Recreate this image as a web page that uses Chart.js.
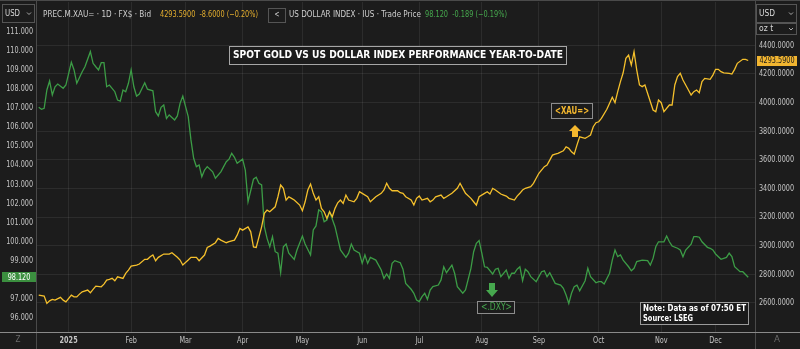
<!DOCTYPE html>
<html>
<head>
<meta charset="utf-8">
<script src="https://cdn.jsdelivr.net/npm/chart.js@4.4.1/dist/chart.umd.min.js"></script>
<style>
  html, body { margin: 0; padding: 0; background: #1c1c1c; }
  canvas { display: block; }
</style>
</head>
<body>
<canvas id="chart" width="800" height="349"></canvas>
<script>
// x axis is counted in trading sessions (weekdays) from 1 Jan 2025
const monthTicks = [0, 23, 43, 64, 86, 108, 129, 152, 173, 195, 218, 238];
const monthLabels = ['2025', 'Feb', 'Mar', 'Apr', 'May', 'Jun', 'Jul', 'Aug', 'Sep', 'Oct', 'Nov', 'Dec'];

const dxyTicks = [96, 97, 98, 99, 100, 101, 102, 103, 104, 105, 106, 107, 108, 109, 110, 111];
const goldTicks = [2600, 2800, 3000, 3200, 3400, 3600, 3800, 4000, 4200, 4400];

// spot gold, USD/oz t
const goldSessions = [
  -11, -9, -8, -7, -6, -5, -3, -2, -1, 1, 2, 3, 4, 5, 7, 8, 9, 10, 12, 13,
  14, 15, 16, 17, 18, 20, 21, 22, 23, 25, 26, 28, 29, 30, 31, 32, 33, 35, 36, 37,
  38, 40, 41, 42, 44, 45, 46, 47, 48, 50, 51, 52, 54, 55, 56, 58, 59, 61, 62, 63,
  64, 66, 67, 68, 69, 71, 72, 73, 74, 76, 77, 78, 79, 80, 81, 82, 83, 85, 86, 87,
  88, 89, 90, 91, 92, 93, 94, 95, 96, 97, 98, 99, 100, 101, 102, 103, 105, 106, 107, 108,
  110, 111, 112, 113, 115, 116, 117, 118, 119, 121, 122, 123, 124, 126, 127, 128, 129, 130, 132, 133,
  134, 135, 137, 138, 139, 140, 141, 143, 144, 145, 146, 148, 149, 150, 151, 153, 154, 155, 156, 157,
  159, 160, 161, 162, 164, 165, 166, 167, 168, 170, 171, 172, 173, 175, 176, 177, 178, 179, 180, 182,
  183, 184, 185, 186, 187, 188, 190, 191, 192, 193, 194, 195, 196, 198, 199, 200, 201, 202, 203, 204,
  205, 206, 207, 208, 209, 210, 211, 212, 214, 215, 216, 217, 218, 219, 221, 222, 223, 224, 225, 226,
  228, 229, 230, 231, 232, 233, 234, 236, 237, 238, 239, 240, 241, 243, 244, 245, 246, 248, 249, 250
];
const goldValues = [
  2655, 2648, 2597, 2615, 2625, 2620, 2639, 2620, 2608, 2655, 2643, 2643, 2662, 2678, 2690, 2671, 2695, 2718, 2713, 2732,
  2760, 2765, 2772, 2755, 2783, 2772, 2807, 2830, 2858, 2865, 2872, 2905, 2905, 2923, 2935, 2895, 2919, 2942, 2942, 2942,
  2951, 2919, 2900, 2865, 2900, 2919, 2919, 2919, 2895, 2935, 2988, 2997, 3021, 3051, 3039, 3021, 3028, 3039, 3074, 3121,
  3109, 3132, 3097, 2991, 2988, 3132, 3226, 3249, 3237, 3272, 3342, 3424, 3401, 3319, 3342, 3331, 3319, 3284, 3244, 3307,
  3389, 3431, 3366, 3319, 3342, 3261, 3237, 3191, 3237, 3202, 3261, 3300, 3319, 3296, 3354, 3319, 3307, 3331, 3377, 3366,
  3342, 3307, 3324, 3342, 3366, 3389, 3436, 3401, 3384, 3384, 3370, 3366, 3342, 3319, 3284, 3331, 3347, 3319, 3331, 3307,
  3319, 3342, 3354, 3331, 3342, 3354, 3366, 3401, 3436, 3401, 3366, 3331, 3307, 3284, 3342, 3366, 3377, 3361, 3401, 3389,
  3361, 3354, 3347, 3331, 3319, 3347, 3366, 3389, 3401, 3412, 3436, 3471, 3506, 3552, 3564, 3598, 3633, 3640, 3645, 3663,
  3691, 3680, 3656, 3640, 3703, 3761, 3750, 3761, 3773, 3831, 3859, 3866, 3890, 3953, 3995, 4037, 3999, 4076, 4146, 4208,
  4309, 4332, 4262, 4355, 4227, 4123, 4111, 4123, 4006, 3948, 3936, 4018, 3999, 3936, 3983, 3983, 4123, 4181, 4204, 4158,
  4088, 4053, 4076, 4088, 4069, 4146, 4169, 4162, 4192, 4232, 4232, 4216, 4208, 4204, 4199, 4232, 4274, 4302, 4302, 4293.59
];

// US dollar index
const dxySessions = [
  -11, -10, -9, -8, -7, -6, -5, -4, -2, -1, 1, 2, 3, 5, 6, 8, 9, 10, 11, 12,
  13, 14, 15, 17, 18, 19, 20, 21, 22, 23, 24, 25, 26, 28, 29, 31, 32, 33, 34, 35,
  36, 37, 39, 40, 41, 42, 44, 45, 46, 47, 48, 49, 50, 51, 53, 54, 56, 58, 59, 60,
  61, 62, 64, 65, 66, 68, 69, 70, 71, 72, 73, 74, 75, 76, 77, 78, 79, 80, 81, 83,
  84, 86, 87, 89, 90, 91, 92, 93, 94, 95, 96, 98, 99, 100, 102, 103, 104, 105, 107, 108,
  109, 110, 111, 113, 115, 116, 117, 118, 119, 120, 122, 123, 124, 126, 127, 128, 129, 130, 131, 132,
  133, 134, 136, 137, 138, 139, 141, 142, 143, 145, 146, 148, 149, 150, 151, 152, 153, 154, 156, 157,
  158, 159, 161, 162, 163, 164, 165, 166, 167, 168, 169, 170, 172, 173, 174, 175, 176, 177, 179, 181,
  182, 183, 184, 185, 186, 187, 188, 190, 191, 192, 194, 195, 196, 197, 199, 200, 201, 202, 203, 204,
  206, 207, 208, 209, 211, 213, 214, 215, 216, 217, 219, 220, 221, 222, 224, 225, 226, 227, 229, 230,
  231, 232, 233, 235, 236, 237, 238, 240, 241, 242, 243, 244, 245, 247, 248, 250
];
const dxyValues = [
  107.03, 106.93, 106.98, 107.94, 108.41, 107.68, 108.11, 108.25, 108.03, 108.20, 109.39, 108.99, 108.29, 108.90, 109.16, 109.95, 109.34, 109.16, 108.99, 109.37,
  109.37, 108.11, 108.20, 107.85, 107.41, 107.36, 107.94, 107.85, 108.29, 108.99, 108.11, 107.62, 107.73, 108.32, 107.98, 107.90, 106.80, 106.58, 107.03, 107.15,
  106.45, 106.63, 106.37, 106.58, 107.24, 107.62, 106.54, 105.32, 104.36, 103.92, 104.01, 103.39, 103.74, 103.92, 103.65, 103.31, 103.65, 104.18, 104.31, 104.62,
  104.41, 104.10, 104.31, 103.74, 102.08, 103.26, 103.36, 103.05, 102.96, 100.77, 100.16, 99.72, 100.25, 99.46, 99.38, 98.36, 99.72, 99.86, 99.38, 99.06,
  99.55, 100.28, 99.86, 99.29, 100.60, 100.81, 101.65, 101.56, 101.03, 101.12, 101.56, 100.77, 100.16, 99.55, 99.16, 99.38, 99.86, 99.55, 99.38, 98.85,
  99.29, 98.85, 99.16, 99.02, 98.50, 98.06, 98.29, 98.06, 98.85, 98.99, 98.88, 98.54, 97.80, 97.49, 97.28, 96.93, 96.84, 97.10, 97.28, 96.96,
  97.45, 97.63, 97.71, 97.98, 98.67, 98.36, 98.76, 98.33, 97.63, 97.28, 97.45, 98.59, 99.46, 99.90, 100.04, 99.38, 98.67, 98.64, 98.29, 98.54,
  98.59, 98.15, 98.50, 98.06, 98.33, 98.33, 98.54, 98.67, 97.94, 98.54, 98.41, 98.15, 97.89, 98.15, 98.41, 98.46, 98.15, 98.36, 97.80, 97.71,
  97.54, 97.19, 96.75, 97.28, 97.63, 97.71, 97.41, 97.94, 98.59, 98.15, 97.83, 97.89, 97.89, 97.77, 98.33, 99.02, 99.55, 99.20, 99.29, 99.02,
  98.67, 98.46, 98.59, 98.94, 99.02, 98.99, 98.76, 99.11, 99.72, 99.98, 99.98, 100.28, 99.98, 99.76, 99.64, 99.55, 99.20, 99.55, 99.86, 100.25,
  100.25, 100.22, 99.98, 99.69, 99.64, 99.55, 99.34, 99.06, 99.11, 99.16, 99.38, 99.20, 98.67, 98.41, 98.41, 98.12
];

const GOLD = '#f5c02c';
const GREEN = '#3c9c46';
const BG = '#1c1c1c';
const GRID = 'rgba(255,255,255,0.075)';
const TICK = '#c4c4c4';
const UI = "'DejaVu Sans', sans-serif";
const SQUEEZE = 0.72; // the terminal font is narrower than DejaVu

function toPoints(xs, ys) {
  return xs.map((x, i) => ({ x: x, y: ys[i] }));
}

// draws text compressed horizontally by factor sx
function squeezeText(ctx, text, x, y, sx, font, color, align) {
  ctx.save();
  ctx.font = font;
  ctx.fillStyle = color;
  ctx.textBaseline = 'middle';
  ctx.textAlign = 'left';
  const w = ctx.measureText(text).width * sx;
  const x0 = align === 'center' ? x - w / 2 : (align === 'right' ? x - w : x);
  ctx.translate(x0, y);
  ctx.scale(sx, 1);
  ctx.fillText(text, 0, 0);
  ctx.restore();
}

// draws text squeezed into a given width
function fitText(ctx, text, x, y, width, font, color, align) {
  ctx.save();
  ctx.font = font;
  const sx = width / ctx.measureText(text).width;
  ctx.restore();
  squeezeText(ctx, text, x, y, sx, font, color, align);
}

function box(ctx, x, y, w, h, stroke, fill) {
  ctx.fillStyle = fill;
  ctx.fillRect(x, y, w, h);
  ctx.strokeStyle = stroke;
  ctx.lineWidth = 1;
  ctx.strokeRect(x + 0.5, y + 0.5, w - 1, h - 1);
}

function chevron(ctx, x, y, color) {
  ctx.strokeStyle = color;
  ctx.lineWidth = 1;
  ctx.beginPath();
  ctx.moveTo(x - 2, y - 1);
  ctx.lineTo(x, y + 1);
  ctx.lineTo(x + 2, y - 1);
  ctx.stroke();
}

const overlay = {
  id: 'overlay',
  beforeDraw(chart) {
    const ctx = chart.ctx;
    ctx.save();
    ctx.fillStyle = BG;
    ctx.fillRect(0, 0, chart.width, chart.height);
    ctx.restore();
  },
  afterDraw(chart) {
    const ctx = chart.ctx;
    const { x, yGold, yDxy } = chart.scales;
    const area = chart.chartArea;
    ctx.save();

    // frame lines
    ctx.fillStyle = '#4a4a4a';
    ctx.fillRect(0, 0, chart.width, 1);
    ctx.fillRect(area.left, 0, 1, chart.height);
    ctx.fillRect(area.right, 0, 1, chart.height);
    ctx.fillStyle = '#8a8a8a';
    ctx.fillRect(0, area.bottom, chart.width, 1);

    // axis labels in the narrow terminal style
    dxyTicks.forEach((v) => {
      squeezeText(ctx, v.toFixed(3), area.left - 3, yDxy.getPixelForValue(v), SQUEEZE, '9px ' + UI, TICK, 'right');
    });
    goldTicks.forEach((v) => {
      squeezeText(ctx, v.toFixed(4), area.right + 4, yGold.getPixelForValue(v), SQUEEZE, '9px ' + UI, TICK, 'left');
    });
    monthTicks.forEach((v, i) => {
      const font = (i === 0 ? 'bold ' : '') + '9px ' + UI;
      squeezeText(ctx, monthLabels[i], x.getPixelForValue(v), area.bottom + 9, SQUEEZE, font, TICK, 'center');
    });

    // header
    box(ctx, 2, 4, 33, 19, '#555', BG);
    fitText(ctx, 'USD', 5, 13.5, 15, '9px ' + UI, '#d8d8d8', 'left');
    chevron(ctx, 29, 13.5, '#aaa');
    fitText(ctx, 'PREC.M.XAU= · 1D · FX$ · Bid', 43, 15, 108, '9px ' + UI, '#cfcfcf', 'left');
    fitText(ctx, '4293.5900  -8.6000 (−0.20%)', 160, 15, 98, '9px ' + UI, '#e3ad2e', 'left');
    box(ctx, 268, 8, 18, 15, '#555', BG);
    fitText(ctx, '<', 277, 15, 5, '9px ' + UI, '#d8d8d8', 'center');
    fitText(ctx, 'US DOLLAR INDEX · IUS · Trade Price', 289, 15, 132, '9px ' + UI, '#cfcfcf', 'left');
    fitText(ctx, '98.120  -0.189 (−0.19%)', 425, 15, 82, '9px ' + UI, '#46a84e', 'left');

    box(ctx, 756, 4, 41, 19, '#555', BG);
    fitText(ctx, 'USD', 759, 13.5, 16, '9px ' + UI, '#d8d8d8', 'left');
    chevron(ctx, 791, 13.5, '#aaa');
    box(ctx, 756, 23, 41, 12, '#555', BG);
    squeezeText(ctx, 'oz t', 759, 29, 0.85, '9px ' + UI, '#d8d8d8', 'left');
    chevron(ctx, 791, 29, '#aaa');

    // title
    box(ctx, 229, 46, 338, 19, '#a6a6a6', BG);
    fitText(ctx, 'SPOT GOLD VS US DOLLAR INDEX PERFORMANCE YEAR-TO-DATE', 398, 55.5, 330,
      'bold 11px ' + UI, '#ffffff', 'center');

    // last value flags on both axes
    const gLast = goldValues[goldValues.length - 1];
    const gy = yGold.getPixelForValue(gLast);
    ctx.fillStyle = '#f2b530';
    ctx.fillRect(757, Math.round(gy) - 5, 40, 10);
    squeezeText(ctx, gLast.toFixed(4), 777, gy, SQUEEZE, '9px ' + UI, '#1c1c1c', 'center');
    const dLast = dxyValues[dxyValues.length - 1];
    const dy = yDxy.getPixelForValue(dLast);
    ctx.fillStyle = '#3b8f3f';
    ctx.fillRect(2, Math.round(dy) - 5, 34, 10);
    squeezeText(ctx, dLast.toFixed(3), 19, dy, SQUEEZE, '9px ' + UI, '#ffffff', 'center');

    // series tags
    const tx = x.getPixelForValue(185.2);
    const ty = yGold.getPixelForValue(3938);
    box(ctx, Math.round(tx - 21), Math.round(ty - 8), 42, 16, '#8c8c8c', BG);
    fitText(ctx, '<XAU=>', tx, ty, 34, 'bold 10px ' + UI, '#f5b82e', 'center');
    const ax = Math.round(tx + 3);
    const ay = Math.round(ty + 14);
    ctx.fillStyle = '#f5b82e';
    ctx.beginPath();
    ctx.moveTo(ax - 6, ay + 6);
    ctx.lineTo(ax, ay);
    ctx.lineTo(ax + 6, ay + 6);
    ctx.closePath();
    ctx.fill();
    ctx.fillRect(ax - 3, ay + 6, 6, 6);

    const dx = x.getPixelForValue(157.4);
    const dty = yDxy.getPixelForValue(96.56);
    box(ctx, Math.round(dx - 19), Math.round(dty - 6), 38, 13, '#8c8c8c', BG);
    fitText(ctx, '<.DXY>', dx, dty + 0.5, 31, '10px ' + UI, '#46a84e', 'center');
    const bx = Math.round(dx - 4);
    const by = Math.round(dty - 10);
    ctx.fillStyle = '#46a84e';
    ctx.beginPath();
    ctx.moveTo(bx - 6, by - 7);
    ctx.lineTo(bx, by);
    ctx.lineTo(bx + 6, by - 7);
    ctx.closePath();
    ctx.fill();
    ctx.fillRect(bx - 3, by - 14, 6, 7);

    // source note
    box(ctx, 640, 302, 109, 23, '#9a9a9a', '#1a1a1a');
    fitText(ctx, 'Note: Data as of 07:50 ET', 643, 309, 103, 'bold 9px ' + UI, '#ffffff', 'left');
    fitText(ctx, 'Source: LSEG', 643, 318.5, 50, 'bold 9px ' + UI, '#ffffff', 'left');

    // footer buttons
    fitText(ctx, 'Z', 18, 340, 5, '9px ' + UI, '#6a6a6a', 'center');
    fitText(ctx, 'A', 777, 340, 6, '9px ' + UI, '#6a6a6a', 'center');

    ctx.restore();
  }
};

new Chart(document.getElementById('chart').getContext('2d'), {
  type: 'line',
  data: {
    datasets: [
      {
        label: 'XAU=',
        data: toPoints(goldSessions, goldValues),
        yAxisID: 'yGold',
        borderColor: GOLD,
        borderWidth: 1.3,
        pointRadius: 0,
        tension: 0
      },
      {
        label: '.DXY',
        data: toPoints(dxySessions, dxyValues),
        yAxisID: 'yDxy',
        borderColor: GREEN,
        borderWidth: 1.3,
        pointRadius: 0,
        tension: 0
      }
    ]
  },
  options: {
    responsive: false,
    animation: false,
    layout: { padding: { top: 2 } },
    plugins: {
      legend: { display: false },
      tooltip: { enabled: false }
    },
    scales: {
      x: {
        type: 'linear',
        min: -12,
        max: 252.5,
        afterBuildTicks: (axis) => { axis.ticks = monthTicks.map((v) => ({ value: v })); },
        afterFit: (s) => { s.height = 17; s.paddingLeft = 0; s.paddingRight = 0; },
        ticks: { display: false },
        grid: { color: GRID, drawTicks: false },
        border: { display: false }
      },
      yDxy: {
        position: 'left',
        min: 95.249,
        max: 112.554,
        afterBuildTicks: (axis) => { axis.ticks = dxyTicks.map((v) => ({ value: v })); },
        afterFit: (s) => { s.width = 36; s.paddingTop = 0; s.paddingBottom = 0; },
        ticks: { display: false },
        grid: { display: false, drawTicks: false },
        border: { display: false }
      },
      yGold: {
        position: 'right',
        min: 2397.4,
        max: 4702.4,
        afterBuildTicks: (axis) => { axis.ticks = goldTicks.map((v) => ({ value: v })); },
        afterFit: (s) => { s.width = 45; s.paddingTop = 0; s.paddingBottom = 0; },
        ticks: { display: false },
        grid: { color: GRID, drawTicks: false },
        border: { display: false }
      }
    }
  },
  plugins: [overlay]
});
</script>
</body>
</html>
